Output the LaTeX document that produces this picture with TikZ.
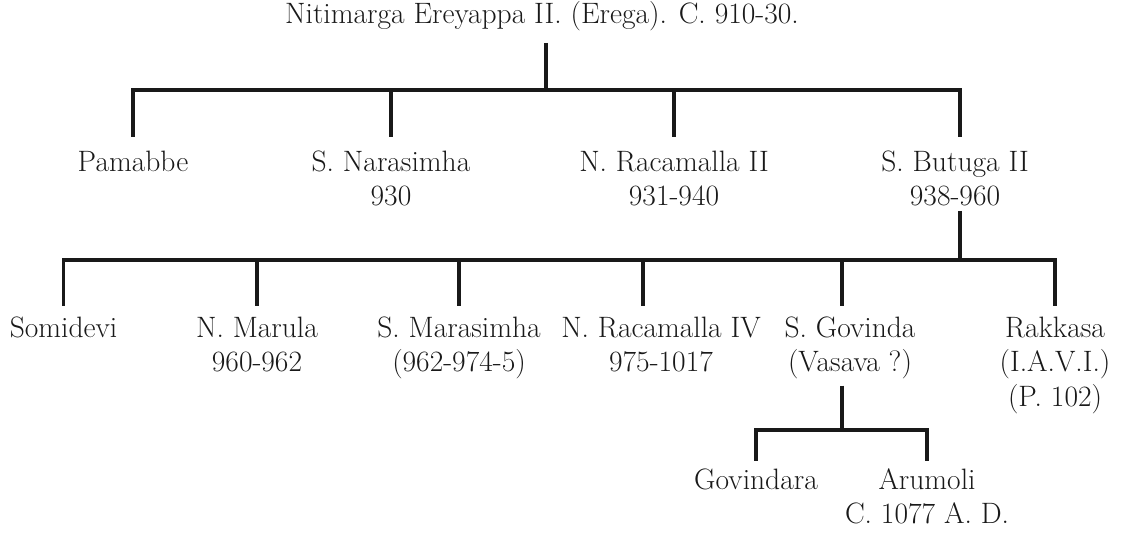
\documentclass[tikz,border=0pt]{standalone}
\usepackage{fontspec}
\setmainfont{Latin Modern Roman}
\begin{document}
\begin{tikzpicture}[x=1pt,y=-1pt,
  txt/.style={font=\fontsize{29.5}{34.5}\selectfont, align=center, inner xsep=0pt, outer sep=0pt, text=black!90},
  titlebox/.style={txt, anchor=base, inner ysep=12.6pt},
  lvlone/.style={txt, anchor=north, inner ysep=9.85pt},
  lvltwo/.style={txt, anchor=north, inner ysep=6.85pt},
  lvlthree/.style={txt, anchor=north, inner ysep=3.85pt},
  link/.style={line width=3.2pt, black!90}]
\useasboundingbox (0,0) rectangle (1123,533);
% generation 0
\node[titlebox] (top) at (542,23) {Nitimarga Ereyappa II. (Erega). C. 910-30.};
\coordinate (j0) at (546,90);
% generation 1
\node[lvlone] (pam) at (133,137) {\strut Pamabbe};
\node[lvlone] (nar) at (391,137) {\strut S. Narasimha\\930};
\node[lvlone] (rac2) at (674,137) {\strut N. Racamalla II\\931-940};
\node[lvlone] (but) at (955,137) {\strut S. Butuga II\\938-960};
\draw[link] (top.south -| j0) -- (j0);
\draw[link] (j0) -| (pam.north);
\draw[link] (j0) -| (nar.north);
\draw[link] (j0) -| (rac2.north);
\draw[link] (j0) -| ([xshift=5pt]but.north);
% generation 2
\coordinate (j1) at (960,260);
\node[lvltwo] (som) at (63.5,306) {\strut Somidevi};
\node[lvltwo] (mar) at (257,306) {\strut N. Marula\\960-962};
\node[lvltwo] (mars) at (459,306) {\strut S. Marasimha\\(962-974-5)};
\node[lvltwo] (rac4) at (661,306) {\strut N. Racamalla IV\\975-1017};
\node[lvltwo] (gov) at (850,306) {\strut S. Govinda\\(Vasava ?)};
\node[lvltwo] (rak) at (1055,306) {\strut Rakkasa\\(I.A.V.I.)\\(P. 102)};
\draw[link] ([xshift=5pt,yshift=5pt]but.south) -- (j1);
\draw[link] (j1) -| (som.north);
\draw[link] (j1) -| (mar.north);
\draw[link] (j1) -| (mars.north);
\draw[link] (j1) -| ([xshift=-18pt]rac4.north);
\draw[link] (j1) -| ([xshift=-8pt]gov.north);
\draw[link] (j1) -| (rak.north);
% generation 3
\coordinate (j2) at (842,430);
\node[lvlthree] (gvd) at (756,461) {\strut Govindara};
\node[lvlthree] (aru) at (927,461) {\strut Arumoli\\C. 1077 A. D.};
\draw[link] ([xshift=-8pt]gov.south) -- (j2);
\draw[link] (j2) -| (gvd.north);
\draw[link] (j2) -| (aru.north);
\end{tikzpicture}
\end{document}
